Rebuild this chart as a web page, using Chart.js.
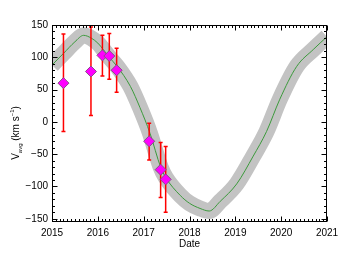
<!DOCTYPE html>
<html>
<head>
<meta charset="utf-8">
<script src="https://cdn.jsdelivr.net/npm/chart.js@4"></script>
<style>
  html, body { margin: 0; padding: 0; background: #fff; }
  canvas { display: block; }
</style>
</head>
<body>
<canvas id="velChart" width="344" height="256"></canvas>
<script>
// observed points (decimal year, km/s)
const obsDates = [2015.25, 2015.85, 2016.10, 2016.25, 2016.41, 2017.12, 2017.37, 2017.48];
const obsV     = [60, 78, 103, 102, 80, -30, -74, -89];
const errHigh  = [136, 147, 134, 137, 114, -2, -32, -38];
const errLow   = [-15, 10, 71, 66, 46, -59, -117, -140];

// model curve
const modelDates = [2015.00, 2015.25, 2015.50, 2015.69, 2015.85, 2016.00, 2016.12, 2016.25, 2016.42,
                    2016.71, 2016.92, 2017.14, 2017.37, 2017.48, 2017.80, 2018.00, 2018.23, 2018.43,
                    2018.67, 2019.03, 2019.39, 2019.68, 2019.97, 2020.34, 2020.70, 2021.00];
const modelV     = [88, 106, 124, 134, 130, 122, 112, 100, 86,
                    55, 22, -18, -70, -86, -114, -126, -134, -138,
                    -123, -96, -53, -15, 35, 86, 112, 132];

const yearTicks = [2015, 2016, 2017, 2018, 2019, 2020, 2021];

function toXY(xs, ys) {
    return xs.map((x, i) => ({ x: x, y: ys[i] }));
}

const FONT = '"Liberation Sans", Arial, sans-serif';

// red error bars, drawn under the diamonds
const errorBars = {
    id: 'errorBars',
    beforeDatasetDraw(chart, args) {
        if (args.index !== 2) return;
        const ctx = chart.ctx;
        const xs = chart.scales.x, ys = chart.scales.y;
        ctx.save();
        ctx.strokeStyle = 'rgb(255, 0, 0)';
        ctx.lineWidth = 1.5;
        ctx.setLineDash([]);
        for (let i = 0; i < obsDates.length; i++) {
            const px = xs.getPixelForValue(obsDates[i]);
            const top = ys.getPixelForValue(errHigh[i]);
            const bot = ys.getPixelForValue(errLow[i]);
            ctx.beginPath();
            ctx.moveTo(px, top); ctx.lineTo(px, bot);
            ctx.moveTo(px - 2, top); ctx.lineTo(px + 2, top);
            ctx.moveTo(px - 2, bot); ctx.lineTo(px + 2, bot);
            ctx.stroke();
        }
        ctx.restore();
    }
};

// box frame with inward ticks, and the y title with sub/superscript
const frame = {
    id: 'frame',
    afterDraw(chart) {
        const ctx = chart.ctx;
        const a = chart.chartArea;
        const xs = chart.scales.x, ys = chart.scales.y;
        const L = Math.round(a.left) + 0.5, R = Math.round(a.right) - 0.5;
        const T = Math.round(a.top) + 0.5, B = Math.round(a.bottom) - 0.5;
        ctx.save();
        ctx.strokeStyle = '#000';
        ctx.lineWidth = 1;
        ctx.strokeRect(L, T, R - L, B - T);
        ctx.beginPath();
        for (let m = 0; m <= 72; m++) {
            const px = Math.round(xs.getPixelForValue(2015 + m / 12)) + 0.5;
            const len = m % 12 === 0 ? 5 : 2.5;
            ctx.moveTo(px, B); ctx.lineTo(px, B - len);
            ctx.moveTo(px, T); ctx.lineTo(px, T + len);
        }
        for (let v = -150; v <= 150; v += 10) {
            const py = Math.round(ys.getPixelForValue(v)) + 0.5;
            const len = v % 50 === 0 ? 5 : 2.5;
            ctx.moveTo(L, py); ctx.lineTo(L + len, py);
            ctx.moveTo(R, py); ctx.lineTo(R - len, py);
        }
        ctx.stroke();

        // y axis title: V_avg (km s^-1)
        ctx.translate(15, 133);
        ctx.rotate(-Math.PI / 2);
        ctx.fillStyle = '#000';
        ctx.textBaseline = 'alphabetic';
        const parts = [
            { t: 'V', size: 10, dy: 0 },
            { t: 'avg', size: 6, dy: 3 },
            { t: ' (km s', size: 10, dy: 0 },
            { t: '\u22121', size: 6, dy: -5 },
            { t: ')', size: 10, dy: 0 }
        ];
        let w = 0;
        parts.forEach(p => { ctx.font = p.size + 'px ' + FONT; p.w = ctx.measureText(p.t).width; w += p.w; });
        let x = -w / 2;
        parts.forEach(p => {
            ctx.font = p.size + 'px ' + FONT;
            ctx.fillText(p.t, x, 4 + p.dy);
            x += p.w;
        });
        ctx.restore();
    }
};

const ctx = document.getElementById('velChart').getContext('2d');
new Chart(ctx, {
    type: 'scatter',
    data: {
        datasets: [
            {
                data: toXY(modelDates, modelV),
                showLine: true,
                borderColor: '#c3c3c3',
                borderWidth: 16,
                borderJoinStyle: 'round',
                pointRadius: 0,
                cubicInterpolationMode: 'monotone',
                clip: 0,
                order: 3
            },
            {
                data: toXY(modelDates, modelV),
                showLine: true,
                borderColor: '#3c9a3c',
                borderWidth: 1,
                pointRadius: 0,
                cubicInterpolationMode: 'monotone',
                clip: 0,
                order: 2
            },
            {
                data: toXY(obsDates, obsV),
                pointStyle: 'rectRot',
                pointRadius: 5.5,
                backgroundColor: '#ff00ff',
                borderColor: '#8a4a8a',
                borderWidth: 1,
                order: 1
            }
        ]
    },
    options: {
        responsive: false,
        animation: false,
        events: [],
        layout: { padding: { top: 25, right: 17, left: 0, bottom: 0 } },
        plugins: { legend: { display: false }, tooltip: { enabled: false } },
        scales: {
            x: {
                type: 'linear',
                min: 2015,
                max: 2021,
                afterFit(s) { s.height = 34; },
                afterBuildTicks(s) { s.ticks = yearTicks.map(v => ({ value: v })); },
                grid: { display: false, drawTicks: false },
                border: { display: false },
                ticks: {
                    padding: 5,
                    maxRotation: 0,
                    color: '#000',
                    font: { family: FONT, size: 10 },
                    callback: v => String(v)
                },
                title: {
                    display: true,
                    text: 'Date',
                    color: '#000',
                    font: { family: FONT, size: 10 },
                    padding: { top: 0, bottom: 6 }
                }
            },
            y: {
                type: 'linear',
                min: -155,
                max: 150,
                afterFit(s) { s.width = 52; },
                grid: { display: false, drawTicks: false },
                border: { display: false },
                ticks: {
                    stepSize: 50,
                    includeBounds: false,
                    padding: 4,
                    color: '#000',
                    font: { family: FONT, size: 10 },
                    callback: v => (v < 0 ? '\u2212' + Math.abs(v) : String(v))
                }
            }
        }
    },
    plugins: [errorBars, frame]
});
</script>
</body>
</html>
